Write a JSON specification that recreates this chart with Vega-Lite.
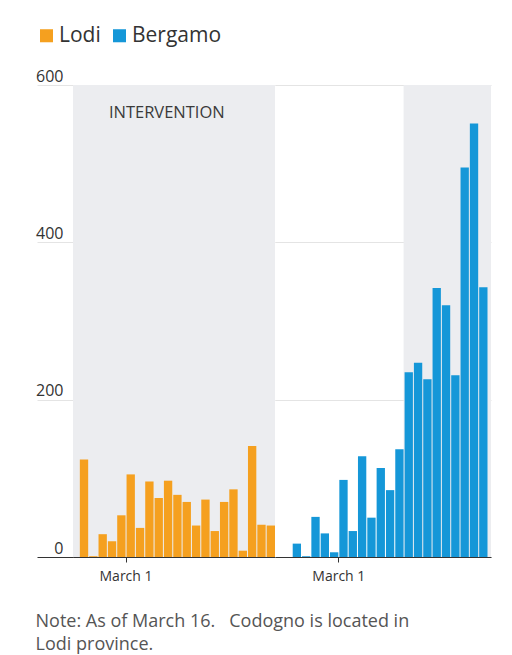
{
  "$schema": "https://vega.github.io/schema/vega-lite/v6.json",
  "background": "white",
  "padding": {"left": 35, "top": 25, "right": 10, "bottom": 5},
  "spacing": 0,
  "datasets": {
    "cases": [
      {"region": "Lodi", "date": "2020-02-25", "cases": 124},
      {"region": "Lodi", "date": "2020-02-26", "cases": 1},
      {"region": "Lodi", "date": "2020-02-27", "cases": 29},
      {"region": "Lodi", "date": "2020-02-28", "cases": 20},
      {"region": "Lodi", "date": "2020-02-29", "cases": 53},
      {"region": "Lodi", "date": "2020-03-01", "cases": 105},
      {"region": "Lodi", "date": "2020-03-02", "cases": 37},
      {"region": "Lodi", "date": "2020-03-03", "cases": 96},
      {"region": "Lodi", "date": "2020-03-04", "cases": 75},
      {"region": "Lodi", "date": "2020-03-05", "cases": 97},
      {"region": "Lodi", "date": "2020-03-06", "cases": 79},
      {"region": "Lodi", "date": "2020-03-07", "cases": 70},
      {"region": "Lodi", "date": "2020-03-08", "cases": 40},
      {"region": "Lodi", "date": "2020-03-09", "cases": 73},
      {"region": "Lodi", "date": "2020-03-10", "cases": 33},
      {"region": "Lodi", "date": "2020-03-11", "cases": 70},
      {"region": "Lodi", "date": "2020-03-12", "cases": 86},
      {"region": "Lodi", "date": "2020-03-13", "cases": 8},
      {"region": "Lodi", "date": "2020-03-14", "cases": 141},
      {"region": "Lodi", "date": "2020-03-15", "cases": 41},
      {"region": "Lodi", "date": "2020-03-16", "cases": 40},
      {"region": "Bergamo", "date": "2020-02-25", "cases": 17},
      {"region": "Bergamo", "date": "2020-02-26", "cases": 1},
      {"region": "Bergamo", "date": "2020-02-27", "cases": 51},
      {"region": "Bergamo", "date": "2020-02-28", "cases": 30},
      {"region": "Bergamo", "date": "2020-02-29", "cases": 6},
      {"region": "Bergamo", "date": "2020-03-01", "cases": 98},
      {"region": "Bergamo", "date": "2020-03-02", "cases": 33},
      {"region": "Bergamo", "date": "2020-03-03", "cases": 128},
      {"region": "Bergamo", "date": "2020-03-04", "cases": 50},
      {"region": "Bergamo", "date": "2020-03-05", "cases": 113},
      {"region": "Bergamo", "date": "2020-03-06", "cases": 85},
      {"region": "Bergamo", "date": "2020-03-07", "cases": 137},
      {"region": "Bergamo", "date": "2020-03-08", "cases": 235},
      {"region": "Bergamo", "date": "2020-03-09", "cases": 247},
      {"region": "Bergamo", "date": "2020-03-10", "cases": 226},
      {"region": "Bergamo", "date": "2020-03-11", "cases": 342},
      {"region": "Bergamo", "date": "2020-03-12", "cases": 320},
      {"region": "Bergamo", "date": "2020-03-13", "cases": 231},
      {"region": "Bergamo", "date": "2020-03-14", "cases": 495},
      {"region": "Bergamo", "date": "2020-03-15", "cases": 551},
      {"region": "Bergamo", "date": "2020-03-16", "cases": 343}
    ],
    "intervention": [
      {"region": "Lodi", "start": "2020-02-23", "end": "2020-03-18", "label": "INTERVENTION"},
      {"region": "Bergamo", "start": "2020-03-08", "end": "2020-03-18", "label": ""}
    ]
  },
  "config": {
    "font": "Open Sans",
    "view": {"stroke": null},
    "axisX": {
      "domainColor": "#333",
      "domainWidth": 1.2,
      "tickColor": "#333",
      "tickSize": 5,
      "labelFontSize": 14,
      "labelColor": "#333",
      "labelPadding": 7,
      "grid": false,
      "title": null
    },
    "legend": {
      "orient": "none",
      "legendX": -37,
      "legendY": -60,
      "direction": "horizontal",
      "title": null,
      "symbolType": "square",
      "symbolSize": 170,
      "symbolStrokeWidth": 0,
      "labelFontSize": 21,
      "labelColor": "#333",
      "labelOffset": 2,
      "columnPadding": 8
    }
  },
  "title": {
    "text": ["Note: As of March 16.\u00a0\u00a0 Codogno is located in", "Lodi province."],
    "orient": "bottom",
    "anchor": "start",
    "fontSize": 18,
    "fontWeight": "normal",
    "color": "#555",
    "offset": 30,
    "lineHeight": 23,
    "dx": 0
  },
  "resolve": {"scale": {"x": "independent"}},
  "hconcat": [
    {
      "width": 202,
      "height": 472,
      "layer": [
        {
          "data": {"name": "intervention"},
          "transform": [{"filter": "datum.region === 'Lodi'"}],
          "mark": {"type": "rect", "color": "#ecedf0", "clip": true},
          "encoding": {
            "x": {"field": "start", "type": "temporal"},
            "x2": {"field": "end"}
          }
        },
        {
          "data": {"name": "cases"},
          "transform": [{"filter": "datum.region === 'Lodi'"}],
          "mark": {"type": "bar"},
          "encoding": {
            "x": {
              "field": "date",
              "timeUnit": "utcyearmonthdate",
              "type": "temporal",
              "scale": {
                "type": "utc",
                "domain": [
                  {"year": 2020, "month": "feb", "date": 24, "hours": 9, "utc": true},
                  {"year": 2020, "month": "mar", "date": 17, "utc": true}
                ]
              },
              "axis": {
                "values": [{"year": 2020, "month": "mar", "date": 1, "utc": true}],
                "format": "%B %-d"
              }
            },
            "y": {
              "field": "cases",
              "type": "quantitative",
              "scale": {"domain": [0, 600], "nice": false},
              "axis": {
                "values": [0, 200, 400, 600],
                "title": null,
                "grid": true,
                "gridColor": {"condition": {"test": "datum.value === 0", "value": "#333"}, "value": "#e4e4e4"},
                "tickColor": {"condition": {"test": "datum.value === 0", "value": "#333"}, "value": "#e4e4e4"},
                "tickWidth": {"condition": {"test": "datum.value === 0", "value": 1.2}, "value": 1},
                "tickSize": 36,
                "domain": false,
                "labelAlign": "right",
                "labelBaseline": "bottom",
                "labelPadding": -26,
                "labelOffset": -1,
                "labelFontSize": 16,
                "labelColor": "#333"
              }
            },
            "color": {
              "field": "region",
              "type": "nominal",
              "scale": {"domain": ["Lodi", "Bergamo"], "range": ["#f5a01f", "#1597d8"]}
            }
          }
        },
        {
          "data": {"name": "intervention"},
          "transform": [{"filter": "datum.region === 'Lodi'"}],
          "mark": {"type": "text", "fontSize": 16.5, "color": "#3a3a3a", "align": "center", "baseline": "middle"},
          "encoding": {
            "x": {"datum": {"year": 2020, "month": "mar", "date": 5, "hours": 10, "utc": true}},
            "y": {"datum": 565},
            "text": {"field": "label"}
          }
        }
      ]
    },
    {
      "width": 216,
      "height": 472,
      "layer": [
        {
          "data": {"name": "intervention"},
          "transform": [{"filter": "datum.region === 'Bergamo'"}],
          "mark": {"type": "rect", "color": "#ecedf0", "clip": true},
          "encoding": {
            "x": {"field": "start", "type": "temporal"},
            "x2": {"field": "end"}
          }
        },
        {
          "data": {"name": "cases"},
          "transform": [{"filter": "datum.region === 'Bergamo'"}],
          "mark": {"type": "bar"},
          "encoding": {
            "x": {
              "field": "date",
              "timeUnit": "utcyearmonthdate",
              "type": "temporal",
              "scale": {
                "type": "utc",
                "domain": [
                  {"year": 2020, "month": "feb", "date": 23, "hours": 5, "utc": true},
                  {"year": 2020, "month": "mar", "date": 17, "hours": 9, "utc": true}
                ]
              },
              "axis": {
                "values": [{"year": 2020, "month": "mar", "date": 1, "utc": true}],
                "format": "%B %-d"
              }
            },
            "y": {
              "field": "cases",
              "type": "quantitative",
              "scale": {"domain": [0, 600], "nice": false},
              "axis": {
                "values": [0, 200, 400, 600],
                "title": null,
                "grid": true,
                "gridColor": "#e4e4e4",
                "ticks": false,
                "labels": false,
                "domain": false
              }
            },
            "color": {
              "field": "region",
              "type": "nominal",
              "scale": {"domain": ["Lodi", "Bergamo"], "range": ["#f5a01f", "#1597d8"]}
            }
          }
        }
      ]
    }
  ]
}
